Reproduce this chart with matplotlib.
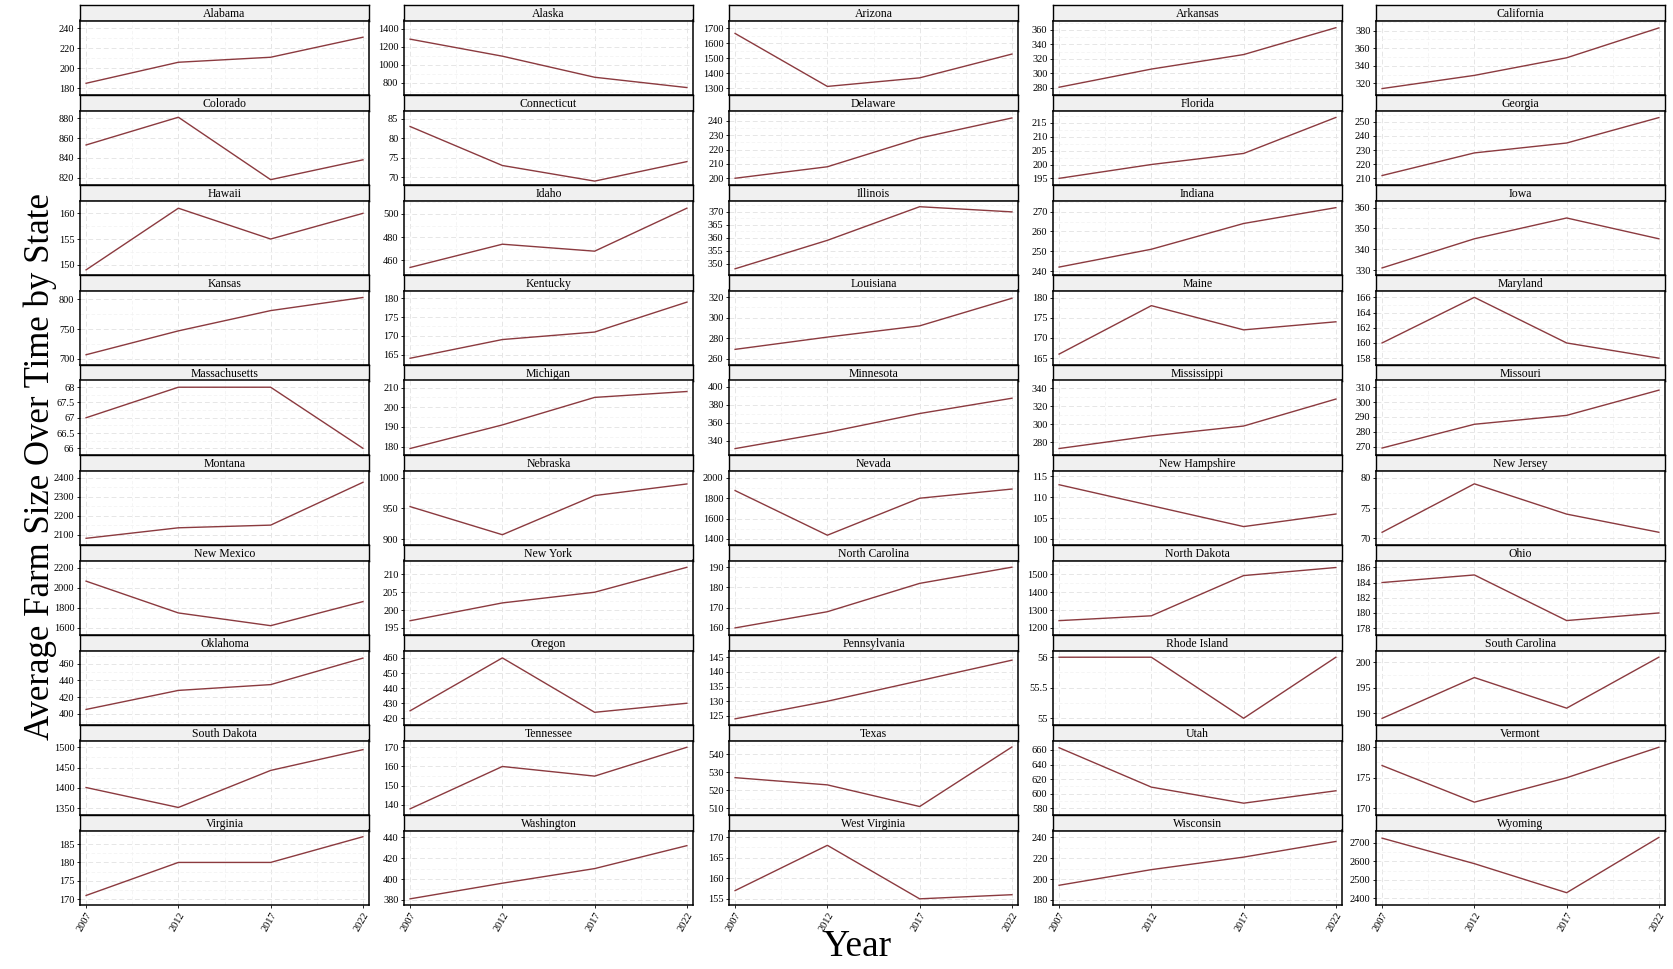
import matplotlib
matplotlib.use("Agg")
import matplotlib.pyplot as plt
from matplotlib.ticker import MultipleLocator, FixedLocator, FuncFormatter

years = [2007, 2012, 2017, 2022]

states = ["Alabama", "Alaska", "Arizona", "Arkansas", "California",
          "Colorado", "Connecticut", "Delaware", "Florida", "Georgia",
          "Hawaii", "Idaho", "Illinois", "Indiana", "Iowa",
          "Kansas", "Kentucky", "Louisiana", "Maine", "Maryland",
          "Massachusetts", "Michigan", "Minnesota", "Mississippi", "Missouri",
          "Montana", "Nebraska", "Nevada", "New Hampshire", "New Jersey",
          "New Mexico", "New York", "North Carolina", "North Dakota", "Ohio",
          "Oklahoma", "Oregon", "Pennsylvania", "Rhode Island", "South Carolina",
          "South Dakota", "Tennessee", "Texas", "Utah", "Vermont",
          "Virginia", "Washington", "West Virginia", "Wisconsin", "Wyoming"]

# average farm size (acres) for 2007, 2012, 2017, 2022
avg_size = [
    [185, 206, 211, 231], [1285, 1095, 860, 745], [1665, 1313, 1370, 1528], [281, 306, 326, 363], [314, 329, 349, 383],
    [853, 881, 818, 838], [83, 73, 69, 74], [200, 208, 228, 242], [195, 200, 204, 217], [212, 228, 235, 253],
    [149, 161, 155, 160], [454, 474, 468, 505], [348, 359, 372, 370], [242, 251, 264, 272], [331, 345, 355, 345],
    [707, 747, 781, 803], [164, 169, 171, 179], [269, 281, 292, 319], [166, 178, 172, 174], [160, 166, 160, 158],
    [67, 68, 68, 66], [179, 191, 205, 208], [331, 349, 370, 387], [273, 287, 298, 328], [269, 285, 291, 308],
    [2082, 2137, 2151, 2375], [953, 907, 971, 990], [1875, 1437, 1800, 1890], [113, 108, 103, 106], [71, 79, 74, 71],
    [2067, 1750, 1623, 1863], [197, 202, 205, 212], [160, 168, 182, 190], [1241, 1268, 1492, 1537], [184, 185, 179, 180],
    [405, 428, 435, 467], [425, 460, 424, 430], [124, 130, 137, 144], [56, 56, 55, 56], [189, 197, 191, 201],
    [1401, 1352, 1443, 1494], [138, 160, 155, 170], [527, 523, 511, 544], [663, 609, 587, 604], [177, 171, 175, 180],
    [171, 180, 180, 187], [381, 396, 410, 432], [157, 168, 155, 156], [194, 209, 221, 236], [2724, 2587, 2431, 2728],
]

# y tick spacing per state panel
tick_step = [20, 200, 100, 20, 20,
             20, 5, 10, 5, 10,
             5, 20, 5, 10, 10,
             50, 5, 20, 5, 2,
             0.5, 10, 20, 20, 10,
             100, 50, 200, 5, 5,
             200, 5, 10, 100, 2,
             20, 10, 5, 0.5, 5,
             50, 10, 10, 20, 5,
             5, 20, 5, 20, 100]

# visible y range of each panel (free scales)
y_lo = [173.3, 662, 1256, 270.3, 306.7,
        812.6, 68.0, 195.3, 192.6, 205.3,
        148.0, 447.5, 345.6, 238.0, 327.6,
        689.8, 162.2, 253.7, 163.3, 157.1,
        65.78, 175.7, 323.9, 265.8, 264.3,
        2047, 890.2, 1341, 98.6, 68.9,
        1530, 193.0, 156.5, 1161, 177.1,
        386.2, 415.6, 121.9, 54.89, 187.7,
        1333.5, 134.8, 506.3, 570.8, 168.9,
        168.4, 375.1, 153.5, 175.1, 2365]
y_hi = [247.7, 1493, 1751, 372.9, 391.4,
        887.8, 87.1, 247.2, 219.5, 258,
        162.5, 511.6, 374.4, 275.6, 363.4,
        814.7, 182.1, 326.6, 181.75, 166.9,
        68.22, 213.6, 406.7, 348.6, 314.5,
        2436.8, 1012, 2072, 116.4, 81.2,
        2273, 213.9, 193.3, 1576, 186.9,
        476.2, 464.9, 147.3, 56.11, 202.3,
        1516.5, 173.5, 547.6, 672.9, 181.1,
        188.7, 446.5, 171.6, 246.5, 2765]

plt.rcParams["font.family"] = ["Liberation Serif", "DejaVu Serif"]

W, H = 1673, 969
fig = plt.figure(figsize=(W / 100, H / 100), dpi=100)

col_left = [80, 404, 729, 1053, 1376]
pw = 289
top = 5
strip_h = 15.5
panel_h = 74.5
row_h = 90
line_col = "#8B3A3F"

for i, st in enumerate(states):
    r, c = divmod(i, 5)
    y0 = top + r * row_h

    sax = fig.add_axes([col_left[c] / W, 1 - (y0 + strip_h) / H, pw / W, strip_h / H])
    sax.set_facecolor("#F0F0F0")
    sax.set_xticks([])
    sax.set_yticks([])
    for sp in sax.spines.values():
        sp.set_linewidth(1.0)
    sax.text(0.5, 0.45, st, ha="center", va="center", fontsize=8.5, transform=sax.transAxes)

    ax = fig.add_axes([col_left[c] / W, 1 - (y0 + strip_h + panel_h) / H, pw / W, panel_h / H])
    ax.plot(years, avg_size[i], color=line_col, lw=1.0)
    ax.set_xlim(2006.67, 2022.33)
    ax.set_ylim(y_lo[i], y_hi[i])
    ax.set_xticks(years)
    ax.xaxis.set_minor_locator(FixedLocator([2009.5, 2014.5, 2019.5]))
    ax.yaxis.set_major_locator(MultipleLocator(tick_step[i]))
    ax.yaxis.set_minor_locator(MultipleLocator(tick_step[i] / 2))
    ax.yaxis.set_major_formatter(FuncFormatter(lambda v, p: f"{v:g}"))
    ax.set_axisbelow(True)
    ax.grid(which="major", color="#E6E6E6", ls=(0, (5, 3)), lw=0.7)
    ax.grid(which="minor", color="#F2F2F2", ls=(0, (5, 3)), lw=0.5)
    ax.tick_params(which="minor", length=0)
    ax.tick_params(which="major", labelsize=7.5, length=2.5, width=0.6, pad=1.5)
    for sp in ax.spines.values():
        sp.set_linewidth(1.1)
    if r == 9:
        plt.setp(ax.get_xticklabels(), rotation=60, ha="right", rotation_mode="anchor")
    else:
        ax.tick_params(axis="x", labelbottom=False, length=0)

fig.text(40 / W, 1 - 466 / H, "Average Farm Size Over Time by State", rotation=90,
         ha="center", va="center", fontsize=25)
fig.text(857 / W, 1 - 947 / H, "Year", ha="center", va="center", fontsize=27)

fig.savefig("out.png", dpi=100)
